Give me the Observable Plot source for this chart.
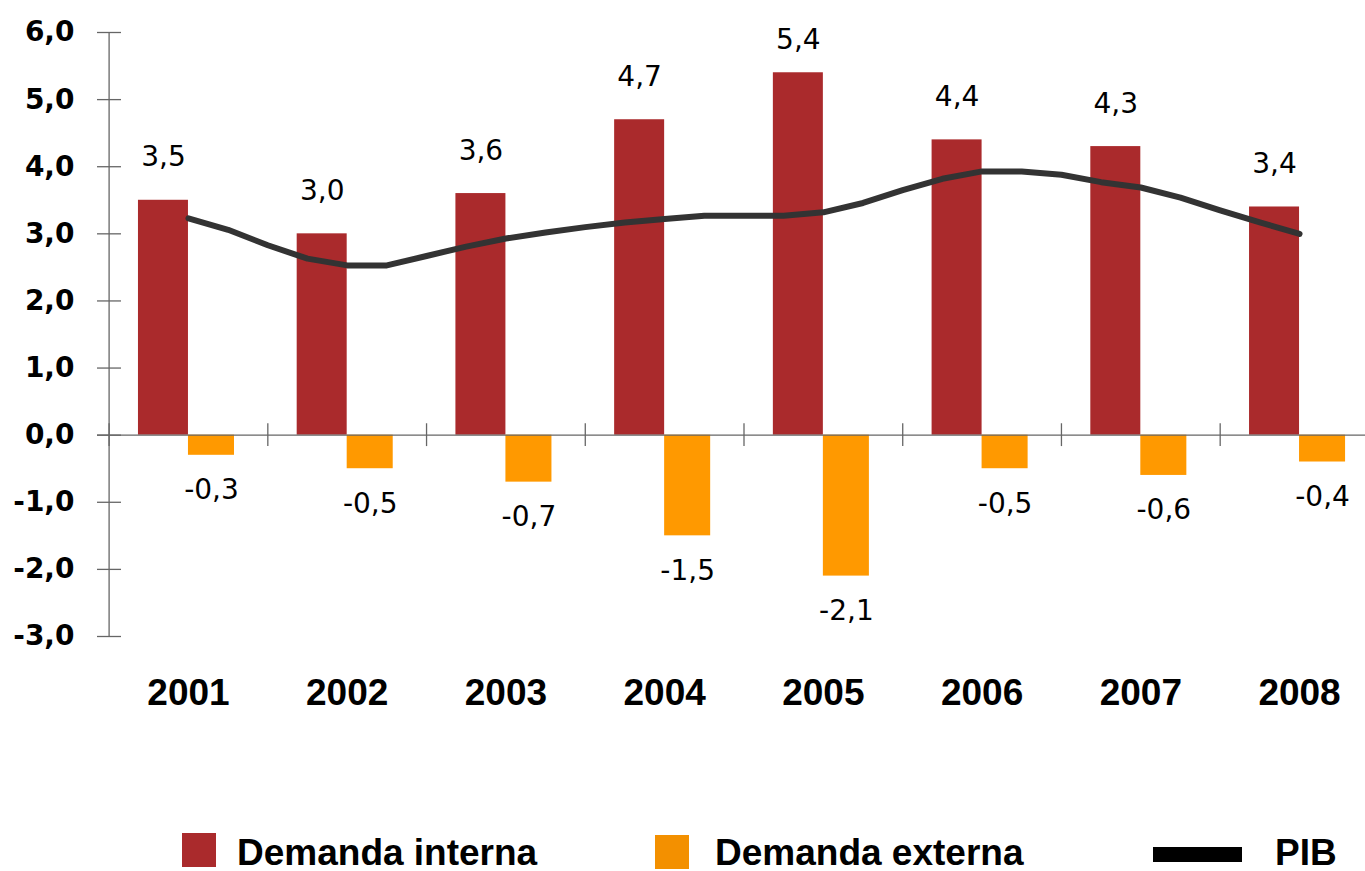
<!DOCTYPE html>
<html>
<head>
<meta charset="utf-8">
<script src="https://cdn.jsdelivr.net/npm/d3@7"></script>
<script src="https://cdn.jsdelivr.net/npm/@observablehq/plot@0.6"></script>
<style>
  html, body { margin: 0; padding: 0; background: #fff; }
  #wrap { width: 1365px; }
  #legend { position: relative; width: 1365px; height: 56px; font-family: "Liberation Sans", Arial, sans-serif; font-weight: bold; font-size: 37px; color: #000; }
  #legend .sw { position: absolute; }
  #legend .lab { position: absolute; line-height: 30px; white-space: nowrap; }
</style>
</head>
<body>
<div id="wrap">
  <div id="chart"></div>
  <div id="legend"></div>
</div>
<script>
// ---- Data ----
const years = [2001, 2002, 2003, 2004, 2005, 2006, 2007, 2008];
const demandaInterna = [3.5, 3.0, 3.6, 4.7, 5.4, 4.4, 4.3, 3.4];
const demandaExterna = [-0.3, -0.5, -0.7, -1.5, -2.1, -0.5, -0.6, -0.4];
// PIB (quarterly points, smoothed line)
const pibTime = [2001.00, 2001.25, 2001.50, 2001.75, 2002.00, 2002.25, 2002.50, 2002.75,
                 2003.00, 2003.25, 2003.50, 2003.75, 2004.00, 2004.25, 2004.50, 2004.75,
                 2005.00, 2005.25, 2005.50, 2005.75, 2006.00, 2006.25, 2006.50, 2006.75,
                 2007.00, 2007.25, 2007.50, 2007.75, 2008.00];
const pibValues = [3.23, 3.06, 2.83, 2.63, 2.53, 2.53, 2.67, 2.81,
                   2.93, 3.02, 3.10, 3.17, 3.22, 3.27, 3.27, 3.27,
                   3.32, 3.46, 3.65, 3.82, 3.93, 3.93, 3.88, 3.77,
                   3.69, 3.54, 3.35, 3.17, 3.00];
const yTicks = [-3, -2, -1, 0, 1, 2, 3, 4, 5, 6];
const seriesNames = ["Demanda interna", "Demanda externa", "PIB"];

// ---- Derived tables ----
const interna = years.map((y, i) => ({year: y, value: demandaInterna[i]}));
const externa = years.map((y, i) => ({year: y, value: demandaExterna[i]}));
const pib = pibTime.map((t, i) => ({t, v: pibValues[i]}));
const boundaries = years.map(y => y - 0.5);

const fmt = v => v.toFixed(1).replace(".", ",");
const cInterna = "#AA2A2C";
const cExterna = "#FF9900";
const cAxis = "#666666";

const x0 = years[0] - 0.5, x1end = years[years.length - 1] + 0.5;

const chart = Plot.plot({
  width: 1365,
  height: 815,
  marginLeft: 108,
  marginRight: 0,
  marginTop: 32,
  marginBottom: 179,
  style: {fontFamily: "DejaVu Sans, sans-serif", background: "#fff", overflow: "visible"},
  x: {domain: [x0, x1end], range: [108.6, 1378.4]},
  y: {domain: [-3, 6], range: [636, 32], label: null},
  marks: [
    Plot.rect(interna, {x1: d => d.year - 0.315, x2: d => d.year, y1: 0, y2: "value", fill: cInterna}),
    Plot.rect(externa, {x1: d => d.year, x2: d => d.year + 0.29, y1: 0, y2: "value", fill: cExterna}),
    // axes lines
    Plot.ruleX([x0], {y1: -3, y2: 6, stroke: cAxis, strokeWidth: 1.3}),
    Plot.ruleY(yTicks, {y: d => d, x1: x0 - 0.073, x2: x0 + 0.078, stroke: cAxis, strokeWidth: 1.3}),
    Plot.ruleY([0], {x1: x0 - 0.073, x2: x1end, stroke: cAxis, strokeWidth: 1.3}),
    Plot.ruleX(boundaries, {x: d => d, y1: -0.17, y2: 0.17, stroke: cAxis, strokeWidth: 1.3}),
    Plot.axisY({ticks: yTicks, tickSize: 0, tickPadding: 34, tickFormat: fmt, fontSize: 28, fontWeight: "bold", fill: "#000", label: null}),
    Plot.axisX({ticks: years, tickSize: 0, tickPadding: 42, tickFormat: d => String(d), fontSize: 37, fontWeight: "bold", fontFamily: "Liberation Sans, Arial, sans-serif", fill: "#000", label: null}),
    // PIB line
    Plot.line(pib, {x: "t", y: "v", stroke: "#333333", strokeWidth: 6, strokeLinecap: "round", strokeLinejoin: "round"}),
    // value labels
    Plot.text(interna, {x: d => d.year - 0.1575, y: d => Math.min(d.value, 5.25), text: d => fmt(d.value), dy: -43, fontSize: 28, fill: "#000"}),
    Plot.text(externa, {x: d => d.year + 0.145, y: "value", text: d => fmt(d.value), dy: 35, fontSize: 28, fill: "#000"})
  ]
});
document.getElementById("chart").appendChild(chart);

// ---- Legend ----
const legend = document.getElementById("legend");
const items = [
  {name: seriesNames[0], color: cInterna, sx: 182, sy: 18, sw: 34, sh: 34, tx: 237},
  {name: seriesNames[1], color: "#F39000", sx: 655, sy: 20, sw: 34, sh: 34, tx: 715},
  {name: seriesNames[2], color: "#000", sx: 1153, sy: 32, sw: 89, sh: 15, tx: 1275}
];
for (const it of items) {
  const s = document.createElement("div");
  s.className = "sw";
  Object.assign(s.style, {left: it.sx + "px", top: it.sy + "px", width: it.sw + "px", height: it.sh + "px", background: it.color});
  legend.appendChild(s);
  const t = document.createElement("div");
  t.className = "lab";
  t.textContent = it.name;
  Object.assign(t.style, {left: it.tx + "px", top: "23px"});
  legend.appendChild(t);
}
</script>
</body>
</html>
